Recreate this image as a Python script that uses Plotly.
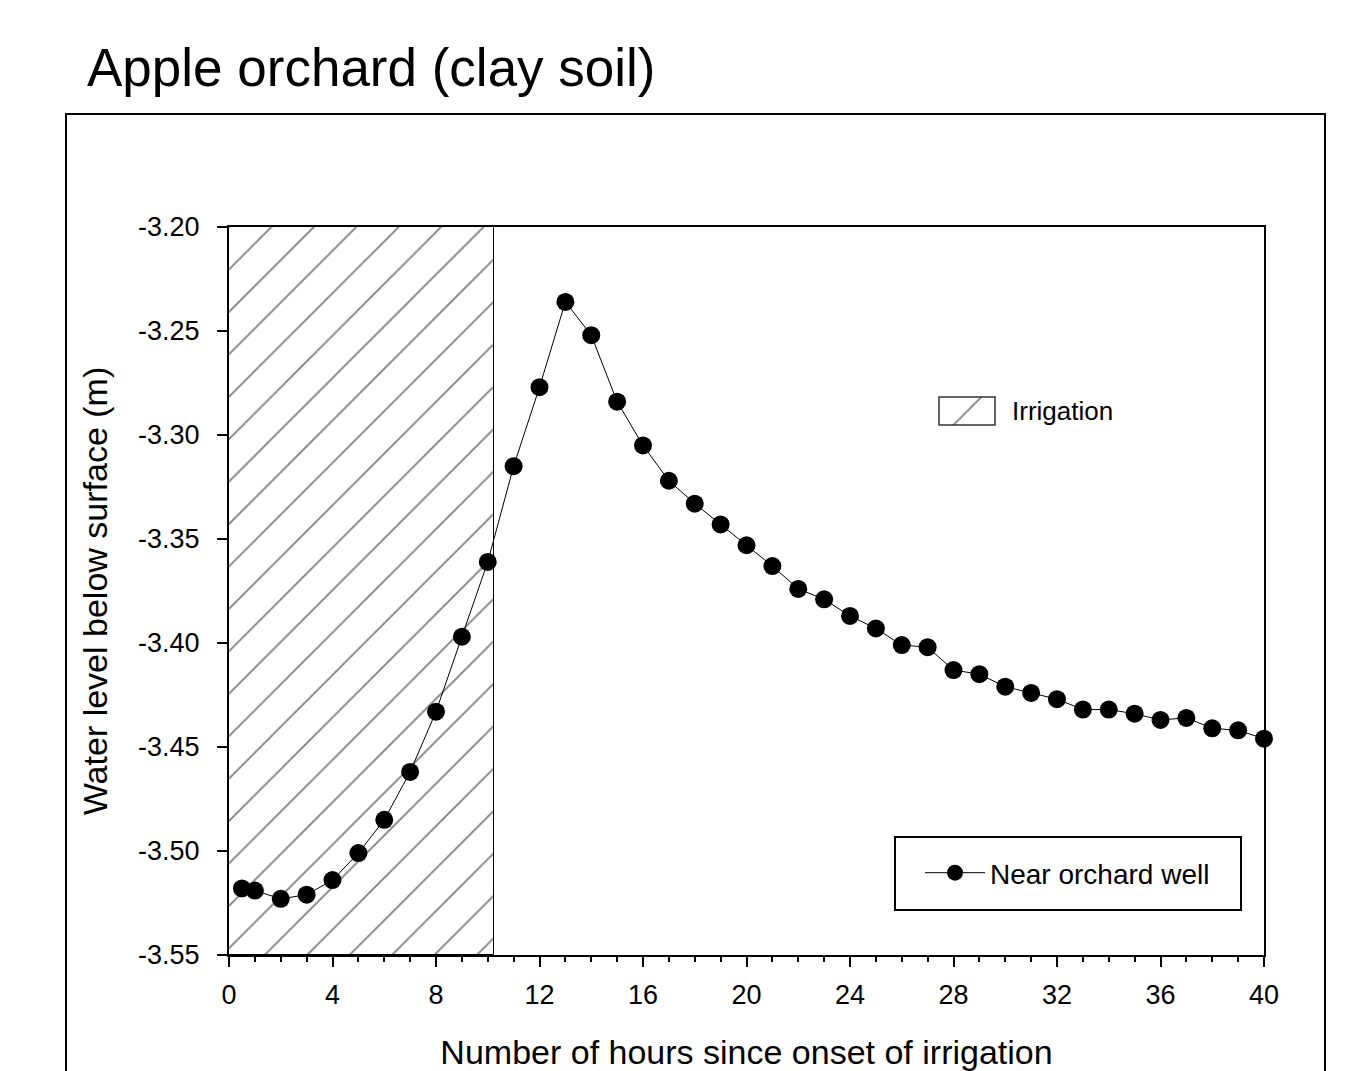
import plotly.graph_objects as go

# ---- data ----
hours = [0.5, 1, 2, 3, 4, 5, 6, 7, 8, 9, 10, 11, 12, 13, 14, 15, 16, 17, 18, 19,
         20, 21, 22, 23, 24, 25, 26, 27, 28, 29, 30, 31, 32, 33, 34, 35, 36, 37, 38, 39, 40]
water_level = [-3.518, -3.519, -3.523, -3.521, -3.514, -3.501, -3.485, -3.462, -3.433,
               -3.397, -3.361, -3.315, -3.277, -3.236, -3.252, -3.284, -3.305, -3.322,
               -3.333, -3.343, -3.353, -3.363, -3.374, -3.379, -3.387, -3.393, -3.401,
               -3.402, -3.413, -3.415, -3.421, -3.424, -3.427, -3.432, -3.432, -3.434,
               -3.437, -3.436, -3.441, -3.442, -3.446]
irrigation_start = 0.0
irrigation_end = 10.25
y_range = [-3.55, -3.20]
x_range = [0, 40]
y_ticks = [-3.55, -3.50, -3.45, -3.40, -3.35, -3.30, -3.25, -3.20]
y_tick_labels = ["-3.55", "-3.50", "-3.45", "-3.40", "-3.35", "-3.30", "-3.25", "-3.20"]
x_ticks = [0, 4, 8, 12, 16, 20, 24, 28, 32, 36, 40]

FONT = "Liberation Sans, Arial, sans-serif"
HATCH = dict(shape="/", size=30, solidity=0.06, fgcolor="black", bgcolor="white",
             fillmode="overlay")

fig = go.Figure()

# irrigation period (hatched)
fig.add_trace(go.Bar(
    x=[(irrigation_start + irrigation_end) / 2],
    width=[irrigation_end - irrigation_start],
    base=[y_range[0]],
    y=[y_range[1] - y_range[0]],
    name="Irrigation",
    marker=dict(color="white", line=dict(color="black", width=1), pattern=HATCH),
    showlegend=False,
    hoverinfo="skip",
))

fig.add_trace(go.Scatter(
    x=hours, y=water_level, mode="lines+markers",
    name="Near orchard well",
    line=dict(color="black", width=1),
    marker=dict(color="black", size=18, symbol="circle"),
    cliponaxis=False,
))

# swatch for the "Irrigation" key (drawn on a tiny auxiliary axis)
fig.add_trace(go.Bar(
    x=[0.5], y=[1], width=[1], xaxis="x2", yaxis="y2",
    marker=dict(color="white", line=dict(width=0), pattern=HATCH),
    showlegend=False, hoverinfo="skip",
))

axis_common = dict(
    showline=True, linecolor="black", linewidth=2, mirror=True,
    showgrid=False, zeroline=False, automargin=False,
    ticks="outside", tickcolor="black", tickwidth=1.5, ticklen=10,
    tickfont=dict(family=FONT, size=27, color="black"),
)

SW_X = [(939 - 229) / 1035, (995 - 229) / 1035]
SW_Y = [(955 - 425) / 728, (955 - 397) / 728]

fig.update_layout(
    width=1361, height=1071,
    margin=dict(l=229, r=97, t=227, b=116),
    paper_bgcolor="white", plot_bgcolor="white",
    font=dict(family=FONT, color="black"),
    title=dict(text="Apple orchard (clay soil)",
               font=dict(family=FONT, size=53, color="black"),
               x=87 / 1361, xanchor="left", xref="container",
               y=1 - 67 / 1071, yanchor="middle", yref="container"),
    xaxis=dict(range=x_range, tickvals=x_ticks,
               minor=dict(dtick=1, ticks="outside", ticklen=5, tickwidth=1.5, tickcolor="black"),
               ticklabelstandoff=5,
               title=dict(text="Number of hours since onset of irrigation",
                          font=dict(family=FONT, size=34, color="black"), standoff=33),
               **axis_common),
    yaxis=dict(range=y_range, tickvals=y_ticks, ticktext=y_tick_labels,
               ticklabelstandoff=12,
               title=dict(text="Water level below surface (m)",
                          font=dict(family=FONT, size=34, color="black"), standoff=20),
               **axis_common),
    xaxis2=dict(domain=SW_X, range=[0, 1], anchor="y2", visible=False, fixedrange=True),
    yaxis2=dict(domain=SW_Y, range=[0, 1], anchor="x2", visible=False, fixedrange=True),
    bargap=0,
    showlegend=True,
    legend=dict(x=(920 - 229) / 1035, y=(955 - 873) / 728, xanchor="left", yanchor="middle",
                bgcolor="rgba(0,0,0,0)", borderwidth=0, itemwidth=60,
                font=dict(family=FONT, size=28, color="black")),
    annotations=[
        dict(text="Irrigation", xref="paper", yref="paper",
             x=(1010 - 229) / 1035, y=(955 - 411) / 728, xanchor="left", yanchor="middle",
             showarrow=False, font=dict(family=FONT, size=26, color="black")),
    ],
    shapes=[
        # outer frame
        dict(type="rect", xref="paper", yref="paper",
             x0=(66 - 229) / 1035, x1=(1325 - 229) / 1035,
             y0=-0.25, y1=(955 - 114) / 728,
             line=dict(color="black", width=2), fillcolor="rgba(0,0,0,0)", layer="below"),
        # legend box
        dict(type="rect", xref="paper", yref="paper",
             x0=(895 - 229) / 1035, x1=(1241 - 229) / 1035,
             y0=(955 - 910) / 728, y1=(955 - 837) / 728,
             line=dict(color="black", width=2), fillcolor="white", layer="below"),
        # irrigation swatch border
        dict(type="rect", xref="paper", yref="paper",
             x0=SW_X[0], x1=SW_X[1], y0=SW_Y[0], y1=SW_Y[1],
             line=dict(color="#333333", width=1.5), fillcolor="rgba(0,0,0,0)", layer="above"),
    ],
)

fig.write_html("out.html")
